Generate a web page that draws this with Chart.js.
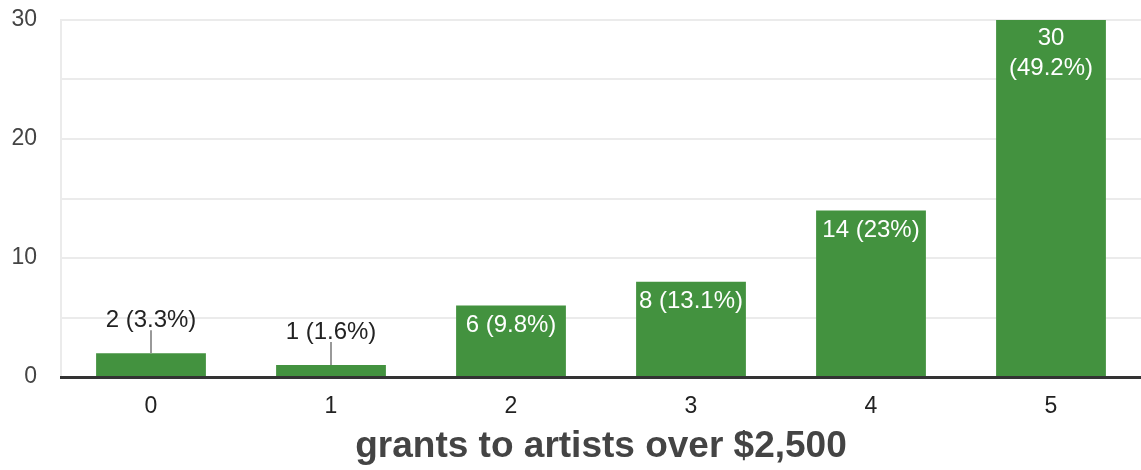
<!DOCTYPE html>
<html>
<head>
<meta charset="utf-8">
<script src="https://cdn.jsdelivr.net/npm/chart.js@4/dist/chart.umd.min.js"></script>
<style>
  html, body { margin: 0; padding: 0; background: #fff; }
  #chart { display: block; }
</style>
</head>
<body>
<canvas id="chart" width="1141" height="470"></canvas>
<script>
const categories = ['0', '1', '2', '3', '4', '5'];
const counts = [2, 1, 6, 8, 14, 30];
const yTicks = [0, 10, 20, 30];
const axisTitle = 'grants to artists over $2,500';

const FONT = "Arial, 'Liberation Sans', sans-serif";
const total = counts.reduce((a, b) => a + b, 0);

function pctText(v) {
  const p = Math.round(v / total * 1000) / 10;
  return v + ' (' + p + '%)';
}

// etiquetas de valor: dentro de la barra si cabe, si no arriba con una linea guia
const barLabels = {
  id: 'barLabels',
  afterDatasetsDraw(chart) {
    const ctx = chart.ctx;
    const meta = chart.getDatasetMeta(0);
    ctx.save();
    ctx.font = '24px ' + FONT;
    ctx.textAlign = 'center';
    ctx.textBaseline = 'middle';
    meta.data.forEach((bar, i) => {
      const v = counts[i];
      const text = pctText(v);
      const h = bar.base - bar.y;
      if (h < 40) {
        ctx.strokeStyle = '#999';
        ctx.lineWidth = 2;
        ctx.beginPath();
        ctx.moveTo(bar.x, bar.y);
        ctx.lineTo(bar.x, bar.y - 23);
        ctx.stroke();
        ctx.fillStyle = '#222';
        ctx.fillText(text, bar.x, bar.y - 33);
      } else {
        ctx.fillStyle = '#fff';
        if (ctx.measureText(text).width > bar.width - 2) {
          const p = text.indexOf(' (');
          ctx.fillText(text.slice(0, p), bar.x, bar.y + 18);
          ctx.fillText(text.slice(p + 1), bar.x, bar.y + 48);
        } else {
          ctx.fillText(text, bar.x, bar.y + 20);
        }
      }
    });
    ctx.restore();
  }
};

new Chart(document.getElementById('chart').getContext('2d'), {
  type: 'bar',
  data: {
    labels: categories,
    datasets: [{
      data: counts,
      backgroundColor: '#43923f',
      borderWidth: 0,
      categoryPercentage: 1,
      barPercentage: 0.61
    }]
  },
  options: {
    responsive: false,
    animation: false,
    devicePixelRatio: 1,
    layout: { padding: { top: 20, right: 0, left: 0, bottom: 1 } },
    plugins: { legend: { display: false }, tooltip: { enabled: false } },
    scales: {
      y: {
        min: 0,
        max: 30,
        afterFit: s => { s.width = 61; s.paddingTop = 0; s.paddingBottom = 0; },
        ticks: {
          stepSize: 5,
          callback: v => yTicks.includes(v) ? v : '',
          font: { family: FONT, size: 23 },
          color: '#444',
          padding: 24
        },
        grid: { color: '#ebebeb', lineWidth: 2, drawTicks: false },
        border: { display: true, color: '#ebebeb', width: 2 }
      },
      x: {
        afterFit: s => { s.height = 92; },
        grid: { display: false },
        border: { display: true, color: '#333', width: 3 },
        ticks: { font: { family: FONT, size: 23 }, color: '#222', padding: 8 },
        title: {
          display: true,
          text: axisTitle,
          font: { family: FONT, size: 37, weight: 'bold' },
          color: '#444',
          padding: { top: 5, bottom: 0 }
        }
      }
    }
  },
  plugins: [barLabels]
});
</script>
</body>
</html>
